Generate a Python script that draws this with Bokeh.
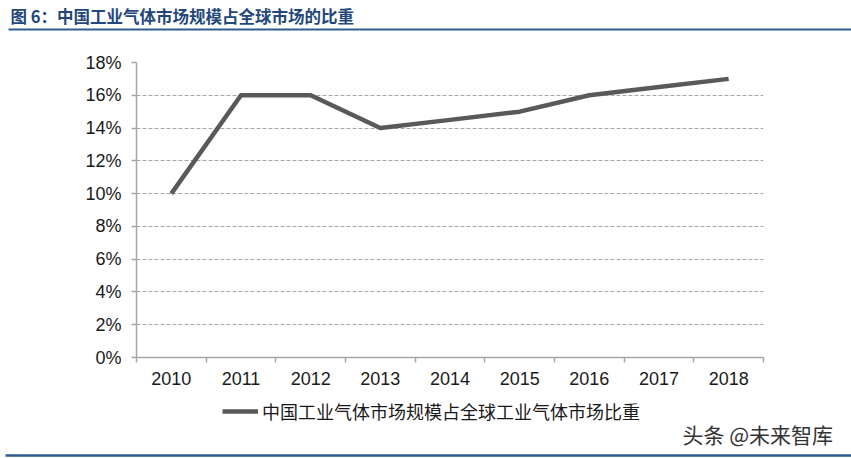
from bokeh.plotting import figure
from bokeh.layouts import column, row
from bokeh.models import (FixedTicker, Legend, LegendItem, Range1d, CustomJSTickFormatter)
from bokeh.core.properties import value
from bokeh.embed import file_html
from bokeh.resources import INLINE

years = [2010, 2011, 2012, 2013, 2014, 2015, 2016, 2017, 2018]
share = [10, 16, 16, 14, 14.5, 15, 16, 16.5, 17]
y_ticks = [0, 2, 4, 6, 8, 10, 12, 14, 16, 18]
title_text = "图 6：中国工业气体市场规模占全球市场的比重"
series_name = "中国工业气体市场规模占全球工业气体市场比重"
watermark = "头条 @未来智库"

W = 851
TOP_H = 40
MAIN_H = 356
BOT_H = 458 - TOP_H - MAIN_H

LINE_COLOR = "#595959"
BLUE = "#2e5d8e"


def blank(h):
    f = figure(width=W, height=h, output_backend="svg", toolbar_location=None,
               frame_width=W, frame_height=h,
               x_range=Range1d(0, W), y_range=Range1d(h, 0),
               x_axis_type=None, y_axis_type=None,
               min_border=0, min_border_left=0, min_border_right=0,
               min_border_top=0, min_border_bottom=0)
    f.grid.visible = False
    f.outline_line_color = None
    f.background_fill_color = "white"
    f.border_fill_color = "white"
    return f


# ---- title strip
top = blank(TOP_H)
top.text(x=[10], y=[15.5], text=[title_text], text_font=value("Noto Sans CJK SC"),
         text_font_size="16.5px", text_font_style="bold", text_color="#23477a",
         text_baseline="middle", text_align="left")
top.segment(x0=[8], y0=[29], x1=[W], y1=[29], line_color=BLUE, line_width=2)

# ---- main chart
p = figure(width=W, height=MAIN_H, output_backend="svg", toolbar_location=None,
           frame_width=627, frame_height=295,
           x_range=Range1d(years[0] - 0.5, years[-1] + 0.5),
           y_range=Range1d(0, 18))
p.min_border_left = 136
p.min_border_right = W - 136 - 627
p.min_border_top = 62 - TOP_H
p.min_border_bottom = MAIN_H - (62 - TOP_H) - 295
p.outline_line_color = None
p.background_fill_color = "white"
p.border_fill_color = "white"

r = p.line(years, share, line_color=LINE_COLOR, line_width=4.5, line_join="round")

p.xaxis.ticker = FixedTicker(ticks=years, minor_ticks=[y - 0.5 for y in years] + [years[-1] + 0.5])
p.xaxis.major_tick_out = 0
p.xaxis.major_tick_in = 0
p.xaxis.minor_tick_out = 5
p.xaxis.minor_tick_in = 0
p.xaxis.minor_tick_line_color = "#a6a6a6"
p.xaxis.minor_tick_line_width = 1.5
p.xaxis.axis_line_color = "#a6a6a6"
p.xaxis.axis_line_width = 1.5
p.xaxis.major_label_standoff = 9
p.xaxis.formatter = CustomJSTickFormatter(code="return tick.toFixed(0);")

p.yaxis.ticker = FixedTicker(ticks=y_ticks)
p.yaxis.minor_tick_line_color = None
p.yaxis.major_tick_out = 5
p.yaxis.major_tick_in = 0
p.yaxis.major_tick_line_color = "#a6a6a6"
p.yaxis.major_tick_line_width = 1.5
p.yaxis.axis_line_color = "#a6a6a6"
p.yaxis.axis_line_width = 1.5
p.yaxis.major_label_standoff = 10
p.yaxis.formatter = CustomJSTickFormatter(code="return tick.toFixed(0) + '%';")

for ax in (p.xaxis, p.yaxis):
    ax.major_label_text_font = "Liberation Sans"
    ax.major_label_text_font_size = "18px"
    ax.major_label_text_color = "#1a1a1a"

p.xgrid.grid_line_color = None
p.ygrid.ticker = FixedTicker(ticks=y_ticks[1:])
p.ygrid.grid_line_color = "#a6a6a6"
p.ygrid.grid_line_dash = "4 2"
p.ygrid.grid_line_width = 1.2

# ---- bottom strip: legend, watermark, rule
bot = blank(BOT_H)
leg_r = bot.line(x=[-10, -5], y=[-10, -10], line_color=LINE_COLOR, line_width=4.5)
legend = Legend(items=[LegendItem(label=series_name, renderers=[leg_r])],
                location=(222, BOT_H - 17 - 11), orientation="horizontal",
                glyph_width=36, glyph_height=22, label_height=22,
                label_standoff=4, padding=0, margin=0, border_line_color=None,
                background_fill_alpha=0,
                label_text_font="Noto Sans CJK SC", label_text_font_size="18px",
                label_text_color="#1a1a1a")
bot.add_layout(legend)
bot.text(x=[682], y=[433 - (TOP_H + MAIN_H)], text=[watermark],
         text_font=value("Noto Sans CJK SC"),
         text_font_size="21px", text_color="#333333",
         text_baseline="middle", text_align="left")
bot.segment(x0=[5], y0=[BOT_H - 3], x1=[W], y1=[BOT_H - 3], line_color=BLUE, line_width=2.5)

layout = column(row(top), row(p), row(bot), spacing=0)
open("out.html", "w").write(file_html(layout, INLINE))
